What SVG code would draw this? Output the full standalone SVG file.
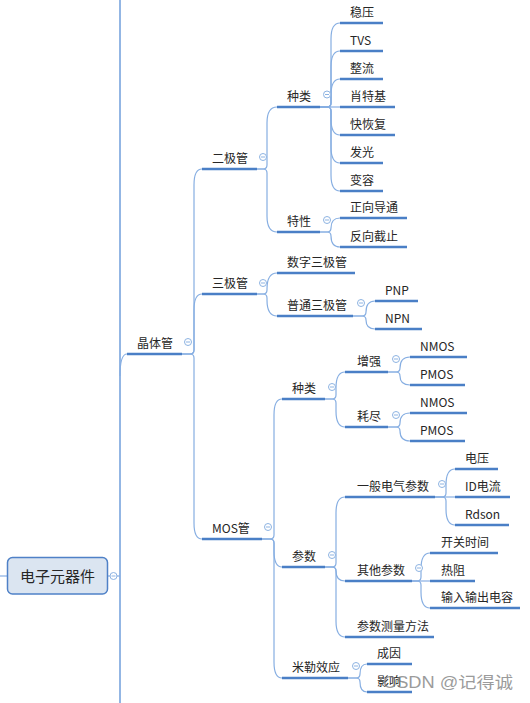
<svg xmlns="http://www.w3.org/2000/svg" width="530" height="703" viewBox="0 0 530 703">
<style>
text{font-family:"Noto Sans CJK SC","Noto Sans",sans-serif;font-size:12px;fill:#262626}
.ul{stroke:#4a7fc6;stroke-width:2.5;fill:none}
.c{stroke:#86aee2;stroke-width:1.2;fill:none}
.tr{stroke:#6f9edb;stroke-width:1.5;fill:none}
.cl{fill:#fff;stroke:#8db3e2;stroke-width:1}
.mn{stroke:#8db3e2;stroke-width:1}
.root{fill:#dbe5f1;stroke:#4f81c7;stroke-width:1.5}
.wm{font-family:"Liberation Sans","Noto Sans CJK SC",sans-serif;font-size:16px;fill:#7a7a7a;opacity:0.75}
</style>
<defs>
<g id="col"><circle class="cl" r="3.5"/><line class="mn" x1="-2" y1="0" x2="2" y2="0"/></g>
</defs>
<g id="connectors">
<path class="tr" d="M120,0 L120,703"/>
<path class="c" d="M0,576 L7,576"/>
<path class="c" d="M107,576 L120,576"/>
<path class="c" d="M120,376 Q120,354 127,354"/>
<path class="c" d="M182,354 L190,354 Q194,354 194,350 L194,185 Q194,169 202,169"/>
<path class="c" d="M182,354 L190,354 Q194,354 194,350 L194,310 Q194,294 202,294"/>
<path class="c" d="M182,354 L190,354 Q194,354 194,358 L194,523 Q194,539 202,539"/>
<path class="c" d="M257,169 L263,169 Q267,169 267,165 L267,123 Q267,107 277,107"/>
<path class="c" d="M257,169 L263,169 Q267,169 267,173 L267,216 Q267,232 277,232"/>
<path class="c" d="M320,107 L327,107 Q331,107 331,103 L331,39 Q331,23 340,23"/>
<path class="c" d="M320,107 L327,107 Q331,107 331,103 L331,67 Q331,51 340,51"/>
<path class="c" d="M320,107 L327,107 Q331,107 331,103 L331,95 Q331,79 340,79"/>
<path class="c" d="M320,107 L340,107"/>
<path class="c" d="M320,107 L327,107 Q331,107 331,111 L331,119 Q331,135 340,135"/>
<path class="c" d="M320,107 L327,107 Q331,107 331,111 L331,147 Q331,163 340,163"/>
<path class="c" d="M320,107 L327,107 Q331,107 331,111 L331,175 Q331,191 340,191"/>
<path class="c" d="M320,232 L327,232 Q331,232 331,228 Q331,218 340,218"/>
<path class="c" d="M320,232 L327,232 Q331,232 331,236 Q331,247 340,247"/>
<path class="c" d="M257,294 L263,294 Q267,294 267,290 L267,289 Q267,273 277,273"/>
<path class="c" d="M257,294 L263,294 Q267,294 267,298 L267,300 Q267,316 277,316"/>
<path class="c" d="M353,316 L362,316 Q366,316 366,312 Q366,301 375,301"/>
<path class="c" d="M353,316 L362,316 Q366,316 366,320 Q366,329 375,329"/>
<path class="c" d="M262,539 L270,539 Q274,539 274,535 L274,415 Q274,399 282,399"/>
<path class="c" d="M262,539 L270,539 Q274,539 274,543 L274,551 Q274,567 282,567"/>
<path class="c" d="M262,539 L270,539 Q274,539 274,543 L274,662 Q274,678 282,678"/>
<path class="c" d="M325,399 L332,399 Q336,399 336,395 L336,388 Q336,372 345,372"/>
<path class="c" d="M325,399 L332,399 Q336,399 336,403 L336,411 Q336,427 345,427"/>
<path class="c" d="M388,372 L396,372 Q400,372 400,368 Q400,357 410,357"/>
<path class="c" d="M388,372 L396,372 Q400,372 400,376 Q400,385 410,385"/>
<path class="c" d="M388,427 L396,427 Q400,427 400,423 Q400,413 410,413"/>
<path class="c" d="M388,427 L396,427 Q400,427 400,431 Q400,441 410,441"/>
<path class="c" d="M325,567 L332,567 Q336,567 336,563 L336,513 Q336,497 345,497"/>
<path class="c" d="M325,567 L332,567 Q336,567 336,571 Q336,581 345,581"/>
<path class="c" d="M325,567 L332,567 Q336,567 336,571 L336,621 Q336,637 345,637"/>
<path class="c" d="M435,497 L442,497 Q446,497 446,493 L446,485 Q446,469 455,469"/>
<path class="c" d="M435,497 L455,497"/>
<path class="c" d="M435,497 L442,497 Q446,497 446,501 L446,509 Q446,525 455,525"/>
<path class="c" d="M412,581 L417,581 Q421,581 421,577 L421,569 Q421,553 430,553"/>
<path class="c" d="M412,581 L430,581"/>
<path class="c" d="M412,581 L417,581 Q421,581 421,585 L421,592 Q421,608 430,608"/>
<path class="c" d="M348,678 L356,678 Q360,678 360,674 Q360,664 367,664"/>
<path class="c" d="M348,678 L356,678 Q360,678 360,682 Q360,692 367,692"/>
</g>
<g id="root">
<rect class="root" x="7.5" y="557.5" width="100" height="36.5" rx="5"/>
<text x="57.5" y="581.5" text-anchor="middle" style="font-size:15px">电子元器件</text>
<use href="#col" x="113.5" y="576"/>
</g>
<g id="jingtiguan"><path class="ul" d="M127,354 H182"/><text x="137" y="348">晶体管</text><use href="#col" x="188" y="342"/></g>
<g id="erjiguan"><path class="ul" d="M202,169 H257"/><text x="212" y="163">二极管</text><use href="#col" x="263" y="157"/></g>
<g id="d-zhonglei"><path class="ul" d="M277,107 H320"/><text x="287" y="101">种类</text><use href="#col" x="327" y="94.5"/></g>
<g id="wenya"><path class="ul" d="M340,23 H383"/><text x="350" y="17">稳压</text></g>
<g id="tvs"><path class="ul" d="M340,51 H383"/><text x="350" y="45">TVS</text></g>
<g id="zhengliu"><path class="ul" d="M340,79 H383"/><text x="350" y="73">整流</text></g>
<g id="xiaoteji"><path class="ul" d="M340,107 H395"/><text x="350" y="101">肖特基</text></g>
<g id="kuaihuifu"><path class="ul" d="M340,135 H395"/><text x="350" y="129">快恢复</text></g>
<g id="faguang"><path class="ul" d="M340,163 H383"/><text x="350" y="157">发光</text></g>
<g id="bianrong"><path class="ul" d="M340,191 H383"/><text x="350" y="185">变容</text></g>
<g id="texing"><path class="ul" d="M277,232 H320"/><text x="287" y="226">特性</text><use href="#col" x="327" y="220"/></g>
<g id="zhengxiang"><path class="ul" d="M340,218 H407"/><text x="350" y="212">正向导通</text></g>
<g id="fanxiang"><path class="ul" d="M340,247 H407"/><text x="350" y="241">反向截止</text></g>
<g id="sanjiguan"><path class="ul" d="M202,294 H257"/><text x="212" y="288">三极管</text><use href="#col" x="263" y="283"/></g>
<g id="shuzi"><path class="ul" d="M277,273 H355"/><text x="287" y="267">数字三极管</text></g>
<g id="putong"><path class="ul" d="M277,316 H353"/><text x="287" y="310">普通三极管</text><use href="#col" x="361" y="303"/></g>
<g id="pnp"><path class="ul" d="M375,301 H418"/><text x="385" y="295">PNP</text></g>
<g id="npn"><path class="ul" d="M375,329 H422"/><text x="385" y="323">NPN</text></g>
<g id="mos"><path class="ul" d="M202,539 H262"/><text x="212" y="533">MOS管</text><use href="#col" x="268" y="527"/></g>
<g id="m-zhonglei"><path class="ul" d="M282,399 H325"/><text x="292" y="393">种类</text><use href="#col" x="332" y="387"/></g>
<g id="zengqiang"><path class="ul" d="M345,372 H388"/><text x="357" y="366">增强</text><use href="#col" x="396" y="359"/></g>
<g id="nmos1"><path class="ul" d="M410,357 H467"/><text x="420" y="351">NMOS</text></g>
<g id="pmos1"><path class="ul" d="M410,385 H465"/><text x="420" y="379">PMOS</text></g>
<g id="haojin"><path class="ul" d="M345,427 H388"/><text x="357" y="421">耗尽</text><use href="#col" x="396" y="415"/></g>
<g id="nmos2"><path class="ul" d="M410,413 H467"/><text x="420" y="407">NMOS</text></g>
<g id="pmos2"><path class="ul" d="M410,441 H465"/><text x="420" y="435">PMOS</text></g>
<g id="canshu"><path class="ul" d="M282,567 H325"/><text x="292" y="561">参数</text><use href="#col" x="332" y="555"/></g>
<g id="yiban"><path class="ul" d="M345,497 H435"/><text x="357" y="491">一般电气参数</text><use href="#col" x="442" y="484"/></g>
<g id="dianya"><path class="ul" d="M455,469 H498"/><text x="465" y="463">电压</text></g>
<g id="idcurrent"><path class="ul" d="M455,497 H510"/><text x="465" y="491">ID电流</text></g>
<g id="rdson"><path class="ul" d="M455,525 H509"/><text x="465" y="519">Rdson</text></g>
<g id="qita"><path class="ul" d="M345,581 H412"/><text x="357" y="575">其他参数</text><use href="#col" x="419" y="568"/></g>
<g id="kaiguan"><path class="ul" d="M430,553 H498"/><text x="441" y="547">开关时间</text></g>
<g id="rezu"><path class="ul" d="M430,581 H475"/><text x="441" y="575">热阻</text></g>
<g id="shuru"><path class="ul" d="M430,608 H520"/><text x="441" y="602">输入输出电容</text></g>
<g id="celiang"><path class="ul" d="M345,637 H434"/><text x="357" y="631">参数测量方法</text></g>
<g id="miller"><path class="ul" d="M282,678 H348"/><text x="292" y="672">米勒效应</text><use href="#col" x="356" y="666"/></g>
<g id="chengyin"><path class="ul" d="M367,664 H412"/><text x="377" y="658">成因</text></g>
<g id="yingxiang"><path class="ul" d="M367,692 H412"/><text x="377" y="686">影响</text></g>
<text class="wm" x="383" y="687.5" textLength="130" lengthAdjust="spacingAndGlyphs">CSDN @记得诚</text>
</svg>
